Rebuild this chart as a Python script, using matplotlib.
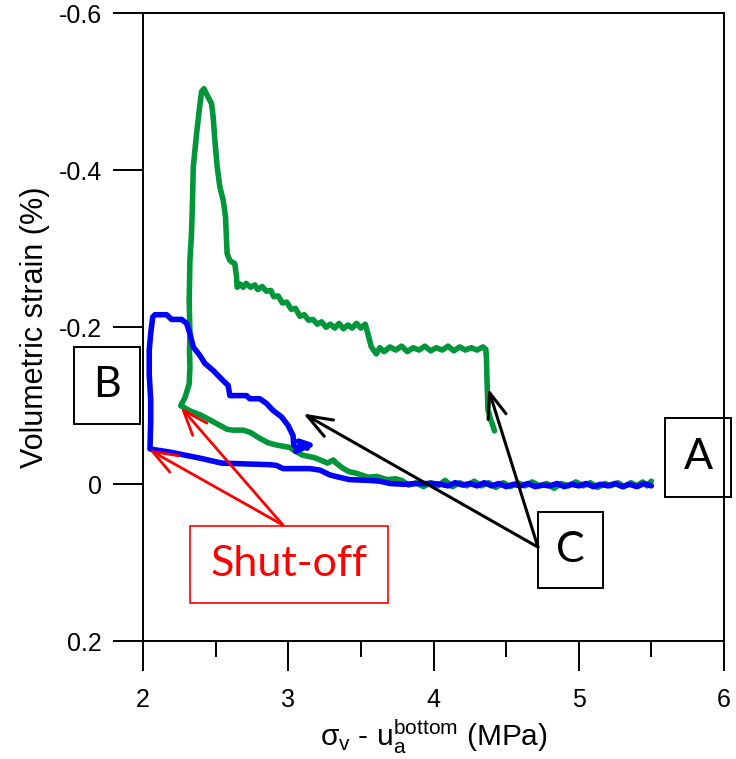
import numpy as np
import matplotlib.pyplot as plt
from matplotlib.patches import Rectangle

plt.rcParams['font.family'] = ['Liberation Sans', 'DejaVu Sans']
plt.rcParams['mathtext.fontset'] = 'custom'
plt.rcParams['mathtext.rm'] = 'Liberation Sans'
plt.rcParams['mathtext.it'] = 'Liberation Sans'
plt.rcParams['axes.unicode_minus'] = False

# ---------------------------------------------------------------
# data: (stress, volumetric strain) pairs, in test order
# ---------------------------------------------------------------
green_base = [(5.50, -0.004), (5.47, 0.002), (5.44, -0.003), (5.40, 0.002), (5.36, -0.002),
              (5.31, 0.003), (5.27, -0.002), (5.22, 0.002), (5.18, -0.001), (5.13, 0.004),
              (5.08, -0.002), (5.03, 0.002), (4.98, -0.003), (4.93, 0.002), (4.88, -0.001),
              (4.83, 0.005), (4.78, -0.001), (4.73, 0.002), (4.68, -0.003), (4.63, 0.002),
              (4.58, -0.002), (4.53, 0.003), (4.48, -0.002), (4.43, 0.004), (4.38, -0.002),
              (4.33, 0.002), (4.28, -0.004), (4.23, 0.002), (4.18, -0.002), (4.13, 0.003),
              (4.08, -0.005), (4.03, 0.002), (3.98, -0.002), (3.93, 0.003), (3.88, -0.002),
              (3.83, 0.001), (3.78, -0.005), (3.74, -0.007), (3.68, -0.006), (3.61, -0.010),
              (3.55, -0.009), (3.47, -0.014), (3.42, -0.016), (3.38, -0.020), (3.33, -0.027),
              (3.31, -0.031), (3.27, -0.027), (3.22, -0.031), (3.18, -0.034), (3.10, -0.037),
              (3.05, -0.042), (3.01, -0.047), (2.92, -0.050), (2.86, -0.053), (2.80, -0.059),
              (2.74, -0.066), (2.69, -0.069), (2.62, -0.069), (2.58, -0.070), (2.50, -0.078),
              (2.40, -0.088), (2.33, -0.093), (2.26, -0.100)]
green_rise = [(2.29, -0.111), (2.318, -0.128), (2.323, -0.149), (2.320, -0.170), (2.323, -0.192),
              (2.318, -0.234), (2.323, -0.285), (2.334, -0.319), (2.341, -0.362), (2.346, -0.404),
              (2.369, -0.447), (2.387, -0.476), (2.403, -0.500), (2.419, -0.504)]
green_fall = [(2.435, -0.498), (2.449, -0.493), (2.472, -0.485), (2.483, -0.468), (2.495, -0.438),
              (2.511, -0.404), (2.529, -0.379), (2.552, -0.362), (2.568, -0.341), (2.579, -0.294),
              (2.598, -0.285), (2.632, -0.281), (2.644, -0.264), (2.648, -0.251)]
green_plateau = [(2.67, -0.255), (2.69, -0.251), (2.71, -0.256), (2.74, -0.251), (2.77, -0.254),
                 (2.79, -0.248), (2.82, -0.252), (2.85, -0.246), (2.88, -0.247), (2.90, -0.239),
                 (2.93, -0.240), (2.96, -0.231), (2.99, -0.232), (3.02, -0.223), (3.05, -0.224),
                 (3.08, -0.214), (3.11, -0.216), (3.14, -0.209), (3.17, -0.210), (3.20, -0.204),
                 (3.23, -0.207), (3.26, -0.200), (3.29, -0.204), (3.32, -0.199), (3.35, -0.205),
                 (3.38, -0.198), (3.41, -0.203), (3.44, -0.199), (3.47, -0.205), (3.50, -0.199),
                 (3.53, -0.204), (3.548, -0.192), (3.572, -0.175), (3.606, -0.166), (3.63, -0.174),
                 (3.66, -0.169), (3.70, -0.175), (3.74, -0.171), (3.78, -0.176), (3.82, -0.169),
                 (3.86, -0.174), (3.90, -0.171), (3.94, -0.176), (3.98, -0.170), (4.02, -0.174),
                 (4.06, -0.171), (4.10, -0.176), (4.14, -0.170), (4.18, -0.175), (4.22, -0.171),
                 (4.26, -0.174), (4.30, -0.171), (4.34, -0.175), (4.36, -0.172)]
green_drop = [(4.365, -0.160), (4.368, -0.135), (4.372, -0.110), (4.375, -0.094), (4.383, -0.090),
              (4.392, -0.083), (4.402, -0.078), (4.412, -0.073), (4.42, -0.068)]

blue_base = [(5.50, 0.002), (5.45, -0.001), (5.40, 0.003), (5.35, 0.000), (5.30, 0.003),
             (5.25, -0.001), (5.20, 0.002), (5.15, 0.000), (5.10, 0.003), (5.05, -0.001),
             (5.00, 0.002), (4.95, 0.000), (4.90, 0.003), (4.85, -0.001), (4.80, 0.002),
             (4.75, 0.001), (4.70, 0.003), (4.65, -0.001), (4.60, 0.002), (4.55, 0.000),
             (4.50, 0.003), (4.45, -0.001), (4.40, 0.002), (4.35, -0.002), (4.30, 0.002),
             (4.25, -0.001), (4.20, 0.001), (4.15, -0.002), (4.10, 0.002), (4.05, 0.000),
             (4.00, -0.001), (3.90, -0.001), (3.80, 0.000), (3.70, -0.001), (3.63, -0.004),
             (3.55, -0.005), (3.42, -0.006), (3.35, -0.009), (3.285, -0.012), (3.22, -0.018),
             (3.148, -0.020), (2.964, -0.020), (2.92, -0.024), (2.873, -0.025), (2.70, -0.026),
             (2.541, -0.027), (2.40, -0.033), (2.185, -0.041), (2.048, -0.045)]
blue_rise = [(2.053, -0.080), (2.053, -0.107), (2.043, -0.140), (2.043, -0.171), (2.053, -0.192),
             (2.067, -0.213), (2.082, -0.216)]
blue_fall = [(2.163, -0.216), (2.197, -0.210), (2.266, -0.210), (2.300, -0.205), (2.323, -0.192),
             (2.346, -0.175), (2.392, -0.164), (2.426, -0.154), (2.483, -0.145), (2.552, -0.132),
             (2.586, -0.126), (2.598, -0.113), (2.713, -0.113), (2.735, -0.109), (2.804, -0.109),
             (2.850, -0.103), (2.896, -0.094), (2.953, -0.086), (2.999, -0.075), (3.033, -0.062),
             (3.038, -0.050), (3.06, -0.045), (3.10, -0.052), (3.13, -0.046), (3.07, -0.055),
             (3.15, -0.050), (3.05, -0.042)]

x_ticks = [2, 3, 4, 5, 6]
x_minor = [2.5, 3.5, 4.5, 5.5]
y_ticks = [-0.6, -0.4, -0.2, 0, 0.2]
y_ticklabels = ['-0.6', '-0.4', '-0.2', '0', '0.2']

# annotation arrows: (tail, head) in data units
shutoff_tail = (2.964, 0.052)
shutoff_heads = [(2.260, -0.098), (2.043, -0.044)]
c_tail = (4.719, 0.080)
c_heads = [(3.104, -0.090), (4.377, -0.122)]

green = np.array(green_base + green_rise + green_fall + green_plateau + green_drop)
blue = np.array(blue_base + blue_rise + blue_fall)

W, H = 736, 759
fig = plt.figure(figsize=(W / 100, H / 100), dpi=100)
ax = fig.add_axes([143 / W, 1 - 641.3 / H, (724 - 143) / W, (641.3 - 13.3) / H])

ax.plot(green[:, 0], green[:, 1], color='#009639', lw=4,
        solid_joinstyle='round', solid_capstyle='round')
ax.plot(blue[:, 0], blue[:, 1], color='#0000ff', lw=4,
        solid_joinstyle='round', solid_capstyle='round')

ax.set_xlim(2, 6)
ax.set_ylim(0.2, -0.6)
ax.set_xticks(x_ticks)
ax.set_xticks(x_minor, minor=True)
ax.set_yticks(y_ticks)
ax.set_yticklabels(y_ticklabels)
ax.tick_params(axis='both', which='major', direction='out', length=21.5, width=1.4,
               labelsize=18)
ax.tick_params(axis='x', which='minor', direction='out', length=11.5, width=1.4)
ax.tick_params(axis='x', which='major', pad=12)
ax.tick_params(axis='y', which='major', pad=8)
for s in ax.spines.values():
    s.set_linewidth(1.4)

ax.set_xlabel(r'$\sigma_{\rm v}$ - u$_{\rm a}^{\rm bottom}$ (MPa)', fontsize=21.5, labelpad=4)
ax.set_ylabel('Volumetric strain (%)', fontsize=22, labelpad=6)

arrow_style = '->, head_length=1.2, head_width=0.45'
for hx, hy in shutoff_heads:
    ax.annotate('', xy=(hx, hy), xytext=shutoff_tail,
                arrowprops=dict(arrowstyle=arrow_style, color='#ff0000', lw=2,
                                mutation_scale=15, shrinkA=0, shrinkB=0))
for hx, hy in c_heads:
    ax.annotate('', xy=(hx, hy), xytext=c_tail,
                arrowprops=dict(arrowstyle=arrow_style, color='black', lw=2.2,
                                mutation_scale=15, shrinkA=0, shrinkB=0))


def label_box(x0, y0, x1, y1, text, color='black', lw=1.4):
    # box given in figure pixels from the top-left corner
    fig.add_artist(Rectangle((x0 / W, 1 - y1 / H), (x1 - x0) / W, (y1 - y0) / H,
                             transform=fig.transFigure, fill=False,
                             edgecolor=color, lw=lw))
    fig.text((x0 + x1) / 2 / W, 1 - (y0 + y1) / 2 / H, text, color=color,
             family=['Lato', 'DejaVu Sans'], fontsize=31, ha='center', va='center')


label_box(74, 347, 140, 424, 'B')
label_box(665, 418, 731, 497, 'A')
label_box(538, 512, 603, 588, 'C')
label_box(190, 526, 388, 603, 'Shut-off', color='#ff0000', lw=1.2)

fig.savefig('out.png', dpi=100)
